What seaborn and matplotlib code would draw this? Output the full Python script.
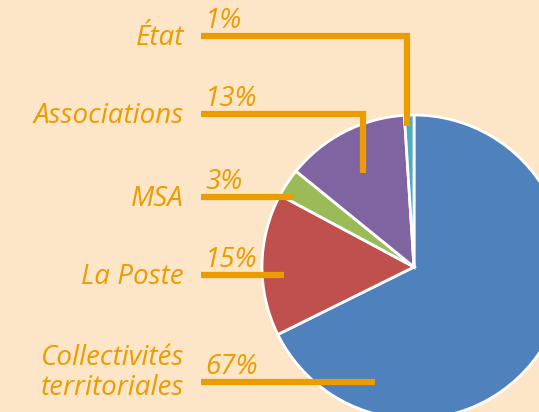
import matplotlib.pyplot as plt
import seaborn as sns

# data
labels = ["Collectivités\nterritoriales", "La Poste", "MSA", "Associations", "État"]
shares = [67, 15, 3, 13, 1]
pct_labels = ["67%", "15%", "3%", "13%", "1%"]
slice_colors = ["#4F81BD", "#C0504D", "#9BBB59", "#8064A2", "#4BACC6"]

# layout (pixel coords, y measured from top)
label_y = [382, 275, 197, 114, 36]
leader_end_x = [375, 284, 294, 363, 407]
leader_end_y = [382, 275, 197, 173, 126]

bg = "#FDE5C8"
orange = "#EB9C00"
W, H = 539, 412

sns.set_theme(style="white", rc={"figure.facecolor": bg, "axes.facecolor": bg})
plt.rcParams["font.family"] = ["Open Sans", "DejaVu Sans"]

fig = plt.figure(figsize=(W / 100, H / 100), dpi=100)
ax = fig.add_axes([0, 0, 1, 1])

cx, cy, r = 414, H - 267, 152
ax.pie(shares, colors=slice_colors, startangle=90, counterclock=False,
       center=(cx, cy), radius=r,
       wedgeprops=dict(edgecolor="white", linewidth=2))

for lab, pct, y, ex, ey in zip(labels, pct_labels, label_y, leader_end_x, leader_end_y):
    yy = H - y
    ax.plot([201, ex, ex], [yy, yy, H - ey], color=orange, lw=4.5,
            solid_capstyle="butt", solid_joinstyle="miter", zorder=5)
    ax.text(205, yy + 1, pct, color=orange, fontsize=20, style="italic",
            ha="left", va="bottom")
    ty = yy + 9 if "\n" in lab else yy - 2
    ax.text(184, ty, lab, color=orange, fontsize=20, style="italic",
            ha="right", va="center", linespacing=1.05)

ax.set_xlim(0, W)
ax.set_ylim(0, H)
ax.set_aspect("equal")
ax.axis("off")

fig.savefig("out.png", dpi=100, facecolor=bg)
